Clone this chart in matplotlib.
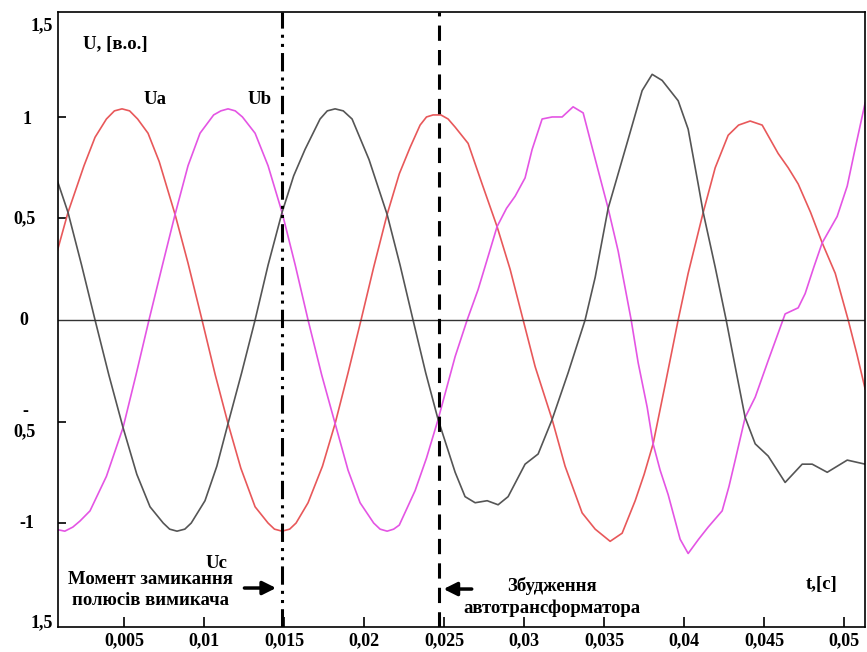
import numpy as np
import matplotlib
matplotlib.use("Agg")
import matplotlib.pyplot as plt
import matplotlib.transforms as mtransforms

plt.rcParams['font.family'] = ['Liberation Serif', 'DejaVu Serif']
plt.rcParams['font.weight'] = 'bold'

# phase voltages, time in ms, values in p.u.
t_a = [0.69, 1.5, 2.5, 3.19, 3.9, 4.4, 4.875, 5.35, 5.85, 6.5, 7.2, 8.19, 9.0, 9.875, 10.7,
       11.5, 12.3, 13.19, 14.0, 14.4, 14.875, 15.35, 15.75, 16.5, 17.4, 18.19, 19.0, 19.81,
       20.6, 21.44, 22.2, 22.875, 23.5, 23.9, 24.31, 24.8, 25.25, 25.69, 26.5, 27.375,
       28.31, 29.125, 29.94, 30.69, 31.75, 32.56, 33.625, 34.44, 35.375, 36.125, 36.94,
       37.5, 38.06, 38.81, 39.625, 40.25, 41.19, 41.94, 42.75, 43.4, 44.125, 44.875,
       45.875, 46.5, 47.125, 47.9, 48.625, 49.44, 50.25, 50.8, 51.31]
u_a = [0.30, 0.53, 0.76, 0.90, 0.99, 1.03, 1.04, 1.03, 0.99, 0.92, 0.78, 0.52, 0.28, 0.0, -0.27,
       -0.51, -0.73, -0.92, -1.00, -1.03, -1.04, -1.03, -1.00, -0.90, -0.72, -0.51, -0.26, 0.0,
       0.26, 0.52, 0.72, 0.85, 0.96, 1.00, 1.01, 1.01, 0.99, 0.95, 0.87, 0.67,
       0.46, 0.25, 0.0, -0.23, -0.49, -0.72, -0.95, -1.03, -1.09, -1.05, -0.89,
       -0.76, -0.61, -0.32, 0.0, 0.23, 0.53, 0.75, 0.91, 0.96, 0.98, 0.96,
       0.82, 0.75, 0.67, 0.53, 0.38, 0.23, 0.0, -0.17, -0.34]

t_b = [0.69, 1.3, 1.8, 2.25, 2.875, 3.9, 4.94, 5.75, 6.56, 7.4, 8.19, 9.0, 9.75, 10.6, 11.05,
       11.5, 11.95, 12.4, 13.19, 14.0, 14.875, 15.7, 16.5, 17.35, 18.19, 19.0, 19.75, 20.6,
       21.0, 21.44, 21.85, 22.2, 23.19, 23.9, 24.625, 25.69, 26.44, 27.125, 27.7, 28.31,
       28.9, 29.44, 30.06, 30.5, 31.125, 31.75, 32.375, 33.06, 33.69, 34.25, 34.75, 35.25,
       35.875, 36.69, 37.125, 37.69, 38.06, 38.5, 39.0, 39.75, 40.25, 40.9, 41.5, 42.375,
       42.8, 43.19, 43.81, 44.44, 45.25, 46.31, 47.125, 47.56, 48.1, 48.625, 49.56, 50.19,
       50.7, 51.31]
u_b = [-1.03, -1.04, -1.02, -0.99, -0.94, -0.77, -0.53, -0.27, 0.0, 0.27, 0.52, 0.76, 0.92, 1.01, 1.03,
       1.04, 1.03, 1.00, 0.92, 0.76, 0.53, 0.27, 0.0, -0.27, -0.51, -0.74, -0.90, -1.00,
       -1.03, -1.04, -1.03, -1.01, -0.84, -0.68, -0.49, -0.18, 0.0, 0.15, 0.30, 0.46,
       0.55, 0.61, 0.70, 0.84, 0.99, 1.00, 1.00, 1.05, 1.02, 0.85, 0.70, 0.55,
       0.34, 0.0, -0.21, -0.43, -0.61, -0.74, -0.86, -1.08, -1.15, -1.08, -1.02, -0.94,
       -0.82, -0.69, -0.48, -0.38, -0.20, 0.03, 0.06, 0.13, 0.26, 0.38, 0.51, 0.66,
       0.85, 1.07]

t_c = [0.69, 1.5, 2.35, 3.19, 4.05, 4.94, 5.8, 6.625, 7.45, 7.85, 8.31, 8.8, 9.2, 10.06, 10.8,
       11.5, 12.35, 13.19, 14.0, 14.875, 15.6, 16.31, 17.25, 17.7, 18.19, 18.7, 19.25, 20.31,
       21.44, 22.25, 23.06, 23.85, 24.625, 25.69, 26.31, 26.94, 27.69, 28.375, 29.0, 30.06,
       30.875, 31.75, 32.75, 33.81, 34.44, 35.25, 35.875, 36.5, 37.375, 38.0, 38.625,
       39.625, 40.25, 40.875, 41.19, 41.94, 42.625, 43.19, 43.81, 44.44, 45.25, 46.31,
       47.375, 48.0, 48.94, 50.19, 51.31]
u_c = [0.72, 0.53, 0.27, 0.0, -0.27, -0.53, -0.76, -0.92, -1.00, -1.03, -1.04, -1.03, -1.00, -0.89, -0.72,
       -0.51, -0.26, 0.0, 0.27, 0.53, 0.71, 0.84, 0.99, 1.03, 1.04, 1.03, 0.99, 0.79,
       0.52, 0.27, 0.0, -0.26, -0.49, -0.75, -0.87, -0.90, -0.89, -0.91, -0.87, -0.71,
       -0.66, -0.49, -0.26, 0.0, 0.21, 0.55, 0.72, 0.89, 1.13, 1.21, 1.18,
       1.08, 0.94, 0.67, 0.53, 0.26, 0.0, -0.23, -0.48, -0.61, -0.67, -0.80,
       -0.71, -0.71, -0.75, -0.69, -0.71]

x_ticks = [0.005, 0.01, 0.015, 0.02, 0.025, 0.03, 0.035, 0.04, 0.045, 0.05]
x_labels = ['0,005', '0,01', '0,015', '0,02', '0,025', '0,03', '0,035', '0,04', '0,045', '0,05']
t_switch = 0.014875   # closing of breaker poles
t_excite = 0.02469    # autotransformer excitation

fig = plt.figure(figsize=(8.67, 6.52), dpi=100)
ax = fig.add_axes([58 / 867, 25 / 652, 807 / 867, 615 / 652])

ax.plot(np.array(t_a) / 1000, u_a, color='#e8585a', lw=1.2)
ax.plot(np.array(t_b) / 1000, u_b, color='#e455e4', lw=1.2)
ax.plot(np.array(t_c) / 1000, u_c, color='#555555', lw=1.2)

ax.axhline(0, color='#333333', lw=1.0)
ax.axvline(t_switch, color='black', lw=2.2, linestyle=(0, (6, 2, 1, 2, 1, 2)))
ax.axvline(t_excite, color='black', lw=2.2, linestyle=(0, (5, 3)))

ax.set_xlim(0.000875, 0.0513)
ax.set_ylim(-1.512, 1.517)

for s in ax.spines.values():
    s.set_linewidth(1.2)

ax.set_xticks(x_ticks)
ax.set_xticklabels(x_labels, fontsize=13, fontweight='bold')
ax.tick_params(axis='x', direction='in', length=7, width=1.2, pad=4)
ax.set_yticks([-1, -0.5, 0.5, 1])
ax.set_yticklabels([])
ax.tick_params(axis='y', direction='in', length=6, width=1.2)

# y labels drawn as text (layout in the original is uneven)
tr = mtransforms.blended_transform_factory(ax.transAxes, ax.transData)
ylab = dict(transform=tr, fontsize=13, fontweight='bold', va='center')
ax.text(-0.006, 1.45, '1,5', ha='right', **ylab)
ax.text(-0.038, 0.99, '1', ha='center', **ylab)
ax.text(-0.041, 0.50, '0,5', ha='center', **ylab)
ax.text(-0.042, 0.0, '0', ha='center', **ylab)
ax.text(-0.041, -0.50, '-\n0,5', ha='center', linespacing=1.3, **ylab)
ax.text(-0.039, -1.0, '-1', ha='center', **ylab)
ax.text(-0.006, -1.49, '1,5', ha='right', **ylab)

lab = dict(fontsize=13.5, fontweight='bold')
ax.text(0.00244, 1.355, 'U, [в.о.]', ha='left', va='center', **lab)
ax.text(0.00694, 1.085, 'Ua', ha='center', va='center', **lab)
ax.text(0.0135, 1.085, 'Ub', ha='center', va='center', **lab)
ax.text(0.01075, -1.197, 'Uc', ha='center', va='center', **lab)
ax.text(0.0486, -1.305, 't,[c]', ha='center', va='center', **lab)

ax.text(0.006625, -1.33, 'Момент замикання\nполюсів вимикача', ha='center', va='center',
        linespacing=1.3, **lab)
ax.annotate('', xy=(t_switch - 0.0002, -1.32), xytext=(0.01235, -1.32),
            arrowprops=dict(arrowstyle='-|>', color='black', lw=2.5, mutation_scale=20))

ax.text(0.03175, -1.365, 'Збудження\nавтотрансформатора', ha='center', va='center',
        linespacing=1.3, **lab)
ax.annotate('', xy=(t_excite + 0.0001, -1.325), xytext=(0.0269, -1.325),
            arrowprops=dict(arrowstyle='-|>', color='black', lw=2.5, mutation_scale=20))

fig.savefig('out.png', dpi=100)
